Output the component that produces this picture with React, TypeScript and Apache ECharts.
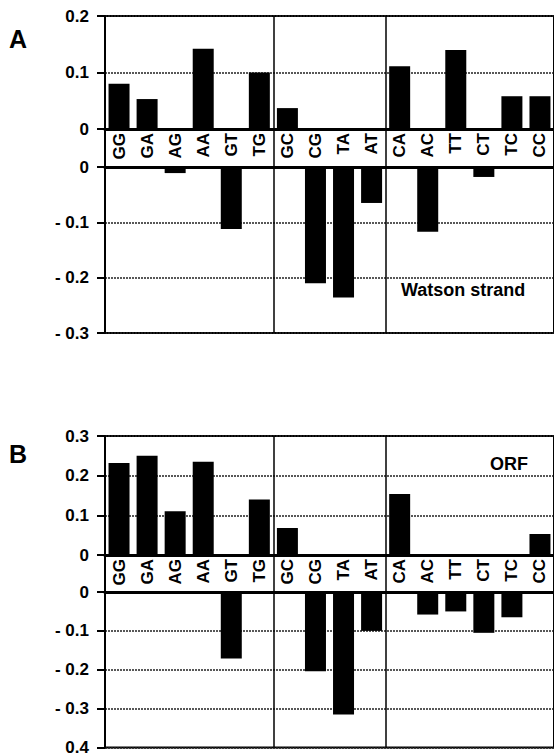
import React, { useEffect, useRef } from "react";
import * as echarts from "echarts";

const categories = ["GG", "GA", "AG", "AA", "GT", "TG", "GC", "CG", "TA", "AT", "CA", "AC", "TT", "CT", "TC", "CC"];
const watsonValues = [0.08, 0.053, -0.011, 0.142, -0.112, 0.1, 0.037, -0.21, -0.236, -0.065, 0.111, -0.117, 0.14, -0.018, 0.058, 0.058];
const orfValues = [0.232, 0.25, 0.11, 0.235, -0.171, 0.14, 0.068, -0.204, -0.315, -0.1, 0.154, -0.058, -0.05, -0.105, -0.065, 0.053];
const groupBoundaries = [6, 10];

const watsonPosTickLabels = ["0", "0.1", "0.2"];
const watsonNegTickLabels = ["- 0.3", "- 0.2", "- 0.1", "0"];
const orfPosTickLabels = ["0", "0.1", "0.2", "0.3"];
const orfNegTickLabels = ["0.4", "- 0.3", "- 0.2", "- 0.1", "0"];

const FONT = "Liberation Sans";
const LEFT = 105;
const WIDTH = 451;

const sepLine = {
  show: true,
  interval: (i: number) => groupBoundaries.includes(i),
  lineStyle: { color: "#000", width: 1.5, type: "solid" as const },
};

function catAxis(gridIndex: number, kind: "top" | "band" | "bottom") {
  return {
    type: "category" as const,
    gridIndex,
    data: categories,
    position: kind === "bottom" ? "top" : "bottom",
    axisLine: { show: kind !== "band", onZero: false, lineStyle: { color: "#000", width: 3 } },
    axisTick: { show: false },
    axisLabel:
      kind === "top"
        ? { show: true, rotate: 90, interval: 0, margin: 4, fontSize: 17, fontWeight: "bold", fontFamily: FONT, color: "#000" }
        : { show: false },
    splitLine: sepLine,
  };
}

function valAxis(gridIndex: number, min: number, max: number, labels: string[]) {
  return {
    type: "value" as const,
    gridIndex,
    min,
    max,
    interval: 0.1,
    axisLine: { show: true, lineStyle: { color: "#000", width: 2 } },
    axisTick: { show: true, length: 8, lineStyle: { color: "#000", width: 2 } },
    axisLabel: {
      margin: 16,
      fontSize: 17,
      fontWeight: "bold",
      fontFamily: FONT,
      color: "#000",
      formatter: (_v: number, i: number) => labels[i] ?? "",
    },
    splitLine: { show: true, lineStyle: { color: "#222", width: 1.5, type: [2, 1] } },
  };
}

function bandY(gridIndex: number) {
  return { type: "value" as const, gridIndex, min: 0, max: 1, show: false, splitLine: { show: false } };
}

const gridBase = { left: LEFT, width: WIDTH, show: true, borderColor: "#000", borderWidth: 2, backgroundColor: "transparent" };

export default function App() {
  const ref = useRef<HTMLDivElement>(null);
  useEffect(() => {
    if (!ref.current) return;
    const chart = echarts.init(ref.current, null, { renderer: "svg" });
    const pos = (vals: number[]) => vals.map((v) => (v > 0 ? v : "-"));
    const neg = (vals: number[]) => vals.map((v) => (v < 0 ? v : "-"));
    chart.setOption({
      animation: false,
      backgroundColor: "#fff",
      grid: [
        { ...gridBase, top: 16, height: 113 },
        { ...gridBase, top: 129, height: 38 },
        { ...gridBase, top: 167, height: 166 },
        { ...gridBase, top: 436, height: 119 },
        { ...gridBase, top: 555, height: 37 },
        { ...gridBase, top: 592, height: 159 },
      ],
      xAxis: [
        catAxis(0, "top"),
        catAxis(1, "band"),
        catAxis(2, "bottom"),
        catAxis(3, "top"),
        catAxis(4, "band"),
        catAxis(5, "bottom"),
      ],
      yAxis: [
        valAxis(0, 0, 0.2, watsonPosTickLabels),
        bandY(1),
        valAxis(2, -0.3, 0, watsonNegTickLabels),
        valAxis(3, 0, 0.3, orfPosTickLabels),
        bandY(4),
        valAxis(5, -0.4, 0, orfNegTickLabels),
      ],
      series: [
        { type: "bar", xAxisIndex: 0, yAxisIndex: 0, data: pos(watsonValues), barWidth: 21, itemStyle: { color: "#000" } },
        { type: "bar", xAxisIndex: 2, yAxisIndex: 2, data: neg(watsonValues), barWidth: 21, itemStyle: { color: "#000" } },
        { type: "bar", xAxisIndex: 3, yAxisIndex: 3, data: pos(orfValues), barWidth: 21, itemStyle: { color: "#000" } },
        { type: "bar", xAxisIndex: 5, yAxisIndex: 5, data: neg(orfValues), barWidth: 21, itemStyle: { color: "#000" } },
      ],
      graphic: [
        { type: "text", left: 9, top: 26, style: { text: "A", fontSize: 25, fontWeight: "bold", fontFamily: FONT, fill: "#000" } },
        { type: "text", left: 9, top: 441, style: { text: "B", fontSize: 25, fontWeight: "bold", fontFamily: FONT, fill: "#000" } },
        { type: "text", left: 401, top: 281, style: { text: "Watson strand", fontSize: 18, fontWeight: "bold", fontFamily: FONT, fill: "#000" } },
        { type: "text", left: 490, top: 455, style: { text: "ORF", fontSize: 18, fontWeight: "bold", fontFamily: FONT, fill: "#000" } },
      ],
    });
    return () => chart.dispose();
  }, []);
  return <div ref={ref} style={{ position: "fixed", left: 0, top: 0, width: 554, height: 756, background: "#fff" }} />;
}
